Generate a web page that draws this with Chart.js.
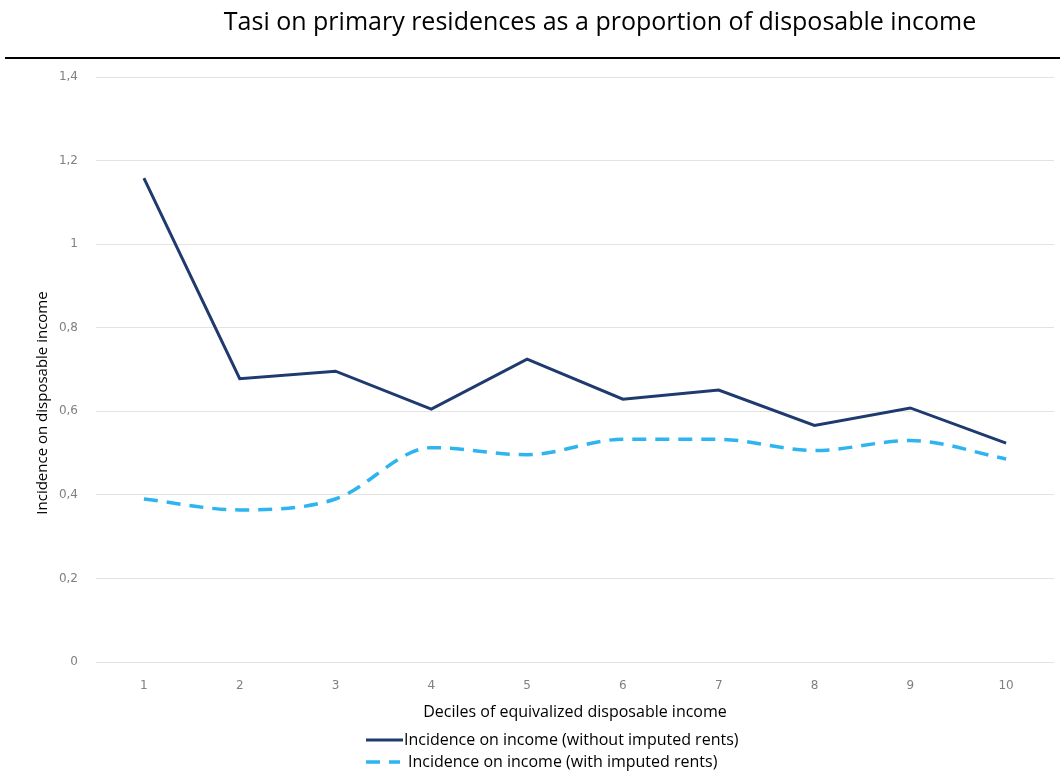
<!DOCTYPE html>
<html>
<head>
<meta charset="utf-8">
<script src="https://cdn.jsdelivr.net/npm/chart.js@4.4.1/dist/chart.umd.min.js"></script>
<style>
    html, body { margin: 0; padding: 0; background: #fff; }
    #wrap { width: 1060px; height: 783px; }
</style>
</head>
<body>
<div id="wrap"><canvas id="tasi-chart" width="1060" height="783"></canvas></div>
<script>
/* Tasi on primary residences - incidence by decile */

const chartTitle = 'Tasi on primary residences as a proportion of disposable income';
const xTitle = 'Deciles of equivalized disposable income';
const yTitle = 'Incidence on disposable income';

const deciles = ['1', '2', '3', '4', '5', '6', '7', '8', '9', '10'];
const withoutRents = [1.158, 0.678, 0.696, 0.605, 0.725, 0.629, 0.651, 0.566, 0.608, 0.524];
const withRents = [0.390, 0.364, 0.390, 0.513, 0.496, 0.533, 0.533, 0.506, 0.530, 0.486];

const seriesLabels = [
    'Incidence on income (without imputed rents)',
    'Incidence on income (with imputed rents)'
];

const FONT = "'Open Sans', 'Noto Sans', sans-serif";
const TICK_FONT = "'DejaVu Sans', sans-serif";

// title, black rule, rotated y title and the stacked legend
const decorPlugin = {
    id: 'decor',
    afterDraw(chart) {
        const ctx = chart.ctx;
        ctx.save();

        ctx.fillStyle = '#000';
        ctx.font = '25px ' + FONT;
        ctx.textAlign = 'center';
        ctx.textBaseline = 'middle';
        ctx.fillText(chartTitle, 600, 23);

        ctx.strokeStyle = '#000';
        ctx.lineWidth = 2;
        ctx.beginPath();
        ctx.moveTo(5, 58);
        ctx.lineTo(chart.width, 58);
        ctx.stroke();

        ctx.save();
        ctx.translate(43, 403);
        ctx.rotate(-Math.PI / 2);
        ctx.font = '15px ' + FONT;
        ctx.fillText(yTitle, 0, 0);
        ctx.restore();

        ctx.font = '16px ' + FONT;
        ctx.textAlign = 'left';
        chart.data.datasets.forEach((ds, i) => {
            const y = 740 + i * 22;
            ctx.strokeStyle = ds.borderColor;
            ctx.lineWidth = ds.borderWidth;
            ctx.setLineDash(ds.borderDash || []);
            ctx.beginPath();
            ctx.moveTo(366, y);
            ctx.lineTo(i === 0 ? 403 : 400, y);
            ctx.stroke();
            ctx.setLineDash([]);
            ctx.fillStyle = '#000';
            ctx.fillText(ds.label, i === 0 ? 404 : 408, y);
        });
        ctx.restore();
    }
};

const ctx = document.getElementById('tasi-chart').getContext('2d');
const tasiChart = new Chart(ctx, {
    type: 'line',
    data: {
        labels: deciles,
        datasets: [{
            label: seriesLabels[0],
            data: withoutRents,
            borderColor: '#1f3a6e',
            borderWidth: 3,
            pointRadius: 0,
            tension: 0,
            fill: false
        }, {
            label: seriesLabels[1],
            data: withRents,
            borderColor: '#2eb4ee',
            borderWidth: 3.5,
            borderDash: [14, 9],
            pointRadius: 0,
            cubicInterpolationMode: 'monotone',
            fill: false
        }]
    },
    options: {
        responsive: false,
        animation: false,
        layout: { padding: { left: 20, right: 6, top: 77, bottom: 55 } },
        scales: {
            x: {
                offset: true,
                grid: { display: false, drawTicks: false },
                border: { display: false },
                ticks: { color: '#808080', font: { family: TICK_FONT, size: 12 }, padding: 17 },
                title: {
                    display: true,
                    text: xTitle,
                    color: '#000',
                    font: { family: FONT, size: 16 },
                    padding: { top: 0, bottom: 6 }
                },
                afterFit(scale) { scale.height = 66; }
            },
            y: {
                min: 0,
                max: 1.4,
                ticks: {
                    stepSize: 0.2,
                    color: '#808080',
                    font: { family: TICK_FONT, size: 12 },
                    padding: 18,
                    callback: v => String(+v.toFixed(1)).replace('.', ',')
                },
                grid: { color: '#e2e2e2', drawTicks: false },
                border: { display: false },
                afterFit(scale) { scale.width = 76; }
            }
        },
        plugins: {
            legend: { display: false },
            tooltip: { enabled: false }
        }
    },
    plugins: [decorPlugin]
});
</script>
</body>
</html>
